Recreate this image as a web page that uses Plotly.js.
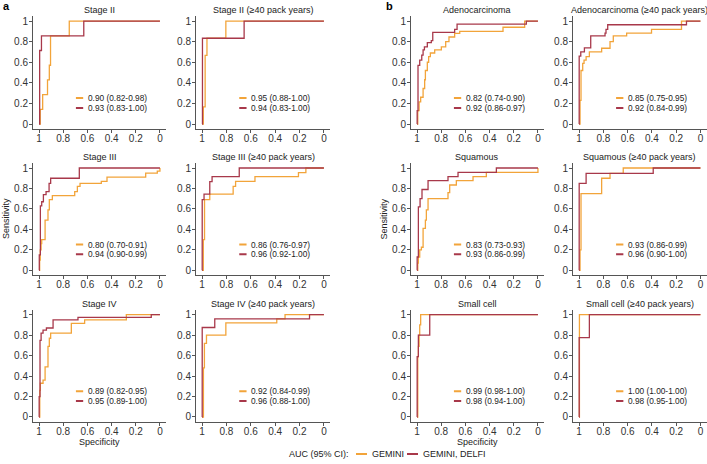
<!DOCTYPE html>
<html><head><meta charset="utf-8">
<script src="https://cdn.plot.ly/plotly-3.0.1.min.js"></script>
<style>html,body{margin:0;padding:0;background:#fff}#chart{width:707px;height:464px}</style>
</head><body><div id="chart"></div>
<script>
// ---------- DATA ----------
const specTickVals = [1, 0.8, 0.6, 0.4, 0.2, 0];
const specTickText = ['1', '0.8', '0.6', '0.4', '0.2', '0'];
const sensTickVals = [0, 0.2, 0.4, 0.6, 0.8, 1];
const sensTickText = ['0', '0.2', '0.4', '0.6', '0.8', '1'];

const panelTitles = ['Stage II', 'Stage II (≥40 pack years)', 'Stage III', 'Stage III (≥40 pack years)',
  'Stage IV', 'Stage IV (≥40 pack years)', 'Adenocarcinoma', 'Adenocarcinoma (≥40 pack years)',
  'Squamous', 'Squamous (≥40 pack years)', 'Small cell', 'Small cell (≥40 pack years)'];
const aucGemini = ['0.90 (0.82-0.98)', '0.95 (0.88-1.00)', '0.80 (0.70-0.91)', '0.86 (0.76-0.97)',
  '0.89 (0.82-0.95)', '0.92 (0.84-0.99)', '0.82 (0.74-0.90)', '0.85 (0.75-0.95)',
  '0.83 (0.73-0.93)', '0.93 (0.86-0.99)', '0.99 (0.98-1.00)', '1.00 (1.00-1.00)'];
const aucGeminiDelfi = ['0.93 (0.83-1.00)', '0.94 (0.83-1.00)', '0.94 (0.90-0.99)', '0.96 (0.92-1.00)',
  '0.95 (0.89-1.00)', '0.96 (0.88-1.00)', '0.92 (0.86-0.97)', '0.92 (0.84-0.99)',
  '0.93 (0.86-0.99)', '0.96 (0.90-1.00)', '0.98 (0.94-1.00)', '0.98 (0.95-1.00)'];
const seriesNames = ['GEMINI', 'GEMINI, DELFI'];
const legendTitle = 'AUC (95% CI):';
const panelLetters = ['a', 'b'];
const xAxisLabel = 'Specificity';
const yAxisLabel = 'Sensitivity';

// ROC curves (specificity, sensitivity) – corner points of step curves
const stageII_gem_spec = [1, 0.99, 0.97, 0.93, 0.915, 0.905, 0.75, 0];
const stageII_gem_sens = [0, 0.143, 0.286, 0.429, 0.571, 0.857, 1, 1];
const stageII_del_spec = [1, 0.995, 0.98, 0.63, 0];
const stageII_del_sens = [0, 0.714, 0.857, 1, 1];

const stageII40_gem_spec = [1, 0.99, 0.975, 0.96, 0.805, 0];
const stageII40_gem_sens = [0, 0.167, 0.667, 0.833, 1, 1];
const stageII40_del_spec = [1, 0.997, 0.655, 0];
const stageII40_del_sens = [0, 0.833, 1, 1];

const stageIII_gem_spec = [1, 0.995, 0.99, 0.983, 0.978, 0.95, 0.926, 0.915, 0.89, 0.705, 0.683, 0.661, 0.485, 0.438, 0.118, 0.022, 0];
const stageIII_gem_sens = [0, 0.1, 0.2, 0.26, 0.3, 0.49, 0.59, 0.69, 0.73, 0.77, 0.82, 0.85, 0.87, 0.91, 0.95, 0.97, 1];
const stageIII_del_spec = [1, 0.998, 0.989, 0.978, 0.964, 0.942, 0.917, 0.904, 0.667, 0];
const stageIII_del_sens = [0, 0.15, 0.63, 0.67, 0.74, 0.77, 0.85, 0.9, 1, 1];

const stageIII40_gem_spec = [1, 0.99, 0.98, 0.937, 0.745, 0.725, 0.566, 0.209, 0.148, 0];
const stageIII40_gem_sens = [0, 0.3, 0.69, 0.745, 0.82, 0.87, 0.915, 0.955, 1, 1];
const stageIII40_del_spec = [1, 0.999, 0.984, 0.937, 0.918, 0.695, 0];
const stageIII40_del_sens = [0, 0.69, 0.745, 0.866, 0.915, 1, 1];

const stageIV_gem_spec = [1, 0.994, 0.989, 0.967, 0.95, 0.926, 0.915, 0.904, 0.733, 0.623, 0.278, 0];
const stageIV_gem_sens = [0, 0.26, 0.33, 0.36, 0.49, 0.69, 0.77, 0.82, 0.915, 0.95, 1, 1];
const stageIV_del_spec = [1, 0.999, 0.992, 0.983, 0.967, 0.939, 0.884, 0.678, 0.072, 0];
const stageIV_del_sens = [0, 0.2, 0.75, 0.82, 0.85, 0.87, 0.95, 0.974, 1, 1];

const stageIV40_gem_spec = [1, 0.989, 0.981, 0.964, 0.805, 0.387, 0.319, 0];
const stageIV40_gem_sens = [0, 0.48, 0.72, 0.8, 0.92, 0.96, 1, 1];
const stageIV40_del_spec = [1, 0.999, 0.896, 0.118, 0];
const stageIV40_del_sens = [0, 0.875, 0.96, 1, 1];

const adeno_gem_spec = [1, 0.994, 0.983, 0.97, 0.95, 0.937, 0.931, 0.915, 0.904, 0.89, 0.854, 0.799, 0.763, 0.736, 0.689, 0.647, 0.289, 0.11, 0];
const adeno_gem_sens = [0, 0.13, 0.215, 0.26, 0.345, 0.43, 0.52, 0.6, 0.655, 0.69, 0.72, 0.75, 0.8, 0.845, 0.88, 0.9, 0.94, 1, 1];
const adeno_del_spec = [1, 0.999, 0.992, 0.978, 0.961, 0.95, 0.939, 0.915, 0.882, 0.87, 0.689, 0.669, 0.096, 0];
const adeno_del_sens = [0, 0.13, 0.57, 0.62, 0.67, 0.72, 0.75, 0.79, 0.81, 0.89, 0.92, 0.97, 1, 1];

const adeno40_gem_spec = [1, 0.992, 0.984, 0.97, 0.959, 0.942, 0.915, 0.814, 0.745, 0.718, 0.608, 0.403, 0.156, 0];
const adeno40_gem_sens = [0, 0.23, 0.52, 0.59, 0.62, 0.655, 0.7, 0.736, 0.8, 0.857, 0.883, 0.92, 1, 1];
const adeno40_del_spec = [1, 0.999, 0.986, 0.956, 0.904, 0.786, 0.778, 0.764, 0.115, 0];
const adeno40_del_sens = [0, 0.66, 0.7, 0.74, 0.857, 0.883, 0.92, 0.964, 1, 1];

const squam_gem_spec = [1, 0.994, 0.989, 0.978, 0.964, 0.95, 0.931, 0.923, 0.909, 0.744, 0.73, 0.675, 0.537, 0.427, 0];
const squam_gem_sens = [0, 0.07, 0.13, 0.2, 0.225, 0.41, 0.49, 0.59, 0.7, 0.76, 0.834, 0.876, 0.915, 0.958, 1];
const squam_del_spec = [1, 0.999, 0.989, 0.975, 0.959, 0.909, 0.744, 0.661, 0.344, 0];
const squam_del_sens = [0, 0.13, 0.62, 0.7, 0.79, 0.876, 0.915, 0.958, 1, 1];

const squam40_gem_spec = [1, 0.992, 0.984, 0.814, 0.745, 0.636, 0];
const squam40_gem_sens = [0, 0.2, 0.75, 0.9, 0.948, 1, 1];
const squam40_del_spec = [1, 0.999, 0.942, 0.389, 0];
const squam40_del_sens = [0, 0.85, 0.948, 1, 1];

const small_gem_spec = [1, 0.994, 0.989, 0.983, 0.978, 0.97, 0];
const small_gem_sens = [0, 0.59, 0.69, 0.8, 0.9, 1, 1];
const small_del_spec = [1, 0.999, 0.989, 0.895, 0];
const small_del_sens = [0, 0.59, 0.8, 1, 1];

const small40_gem_spec = [1, 0.997, 0];
const small40_gem_sens = [0, 1, 1];
const small40_del_spec = [1, 0.999, 0.915, 0];
const small40_del_sens = [0, 0.775, 1, 1];

// ---------- BUILD ----------
const curves = [
  [stageII_gem_spec, stageII_gem_sens, stageII_del_spec, stageII_del_sens],
  [stageII40_gem_spec, stageII40_gem_sens, stageII40_del_spec, stageII40_del_sens],
  [stageIII_gem_spec, stageIII_gem_sens, stageIII_del_spec, stageIII_del_sens],
  [stageIII40_gem_spec, stageIII40_gem_sens, stageIII40_del_spec, stageIII40_del_sens],
  [stageIV_gem_spec, stageIV_gem_sens, stageIV_del_spec, stageIV_del_sens],
  [stageIV40_gem_spec, stageIV40_gem_sens, stageIV40_del_spec, stageIV40_del_sens],
  [adeno_gem_spec, adeno_gem_sens, adeno_del_spec, adeno_del_sens],
  [adeno40_gem_spec, adeno40_gem_sens, adeno40_del_spec, adeno40_del_sens],
  [squam_gem_spec, squam_gem_sens, squam_del_spec, squam_del_sens],
  [squam40_gem_spec, squam40_gem_sens, squam40_del_spec, squam40_del_sens],
  [small_gem_spec, small_gem_sens, small_del_spec, small_del_sens],
  [small40_gem_spec, small40_gem_sens, small40_del_spec, small40_del_sens]
];

const W = 707, H = 464;
const colorGem = '#F2A43A';
const colorDel = '#A8384A';
const FONT = '"Liberation Sans", Arial, sans-serif';
const textColor = '#333333';
const axisColor = '#555555';

const colL = [33, 196, 411, 573];
const colR = [166, 330, 544, 706.5];
const rowT = [15.9, 162.9, 309.6];
const rowB = [129.2, 275.4, 422.1];
const px = v => v / W;
const py = v => 1 - v / H;

const traces = [];
const layout = {
  width: W, height: H,
  margin: {l: 0, r: 0, t: 0, b: 0},
  paper_bgcolor: '#fff', plot_bgcolor: '#fff',
  showlegend: false,
  font: {family: FONT, color: textColor, size: 10},
  annotations: [], shapes: []
};

for (let i = 0; i < 12; i++) {
  const j = i % 6;
  const r = Math.floor(j / 2);
  const c = (i < 6 ? 0 : 2) + (j % 2);
  const sfx = i === 0 ? '' : String(i + 1);
  const xa = 'x' + sfx, ya = 'y' + sfx;
  const cv = curves[i];
  traces.push({x: cv[0], y: cv[1], xaxis: xa, yaxis: ya, type: 'scatter', mode: 'lines',
    line: {color: colorGem, width: 1.3, shape: 'hv'}, name: seriesNames[0], hoverinfo: 'skip'});
  traces.push({x: cv[2], y: cv[3], xaxis: xa, yaxis: ya, type: 'scatter', mode: 'lines',
    line: {color: colorDel, width: 1.3, shape: 'hv'}, name: seriesNames[1], hoverinfo: 'skip'});

  layout['xaxis' + sfx] = {
    domain: [px(colL[c]), px(colR[c])], anchor: ya, range: [1.05, -0.05],
    tickmode: 'array', tickvals: specTickVals, ticktext: specTickText,
    showgrid: false, zeroline: false, showline: true, linecolor: axisColor, linewidth: 1,
    ticks: 'outside', ticklen: 3, tickcolor: axisColor, tickwidth: 1, ticklabelstandoff: -3,
    tickfont: {size: 10, color: textColor, family: FONT}, fixedrange: true
  };
  layout['yaxis' + sfx] = {
    domain: [py(rowB[r]), py(rowT[r])], anchor: xa, range: [-0.05, 1.05],
    tickmode: 'array', tickvals: sensTickVals, ticktext: sensTickText,
    showgrid: false, zeroline: false, showline: true, linecolor: axisColor, linewidth: 1,
    ticks: 'outside', ticklen: 3, tickcolor: axisColor, tickwidth: 1, ticklabelstandoff: -1,
    tickfont: {size: 10, color: textColor, family: FONT}, fixedrange: true
  };

  // subplot title
  layout.annotations.push({
    text: panelTitles[i], xref: 'paper', yref: 'paper',
    x: px((colL[c] + colR[c]) / 2), y: py(rowT[r] - 6), xanchor: 'center', yanchor: 'middle',
    showarrow: false, font: {size: 9, color: '#222', family: FONT}
  });
  // in-panel AUC legend
  const legY = [0.252, 0.157];
  const legTxt = [aucGemini[i], aucGeminiDelfi[i]];
  const legCol = [colorGem, colorDel];
  for (let k = 0; k < 2; k++) {
    layout.shapes.push({type: 'line', xref: xa, yref: ya, x0: 0.695, x1: 0.635, y0: legY[k], y1: legY[k],
      line: {color: legCol[k], width: 2}});
    layout.annotations.push({
      text: legTxt[k], xref: xa, yref: ya, x: 0.605, y: legY[k], xanchor: 'left', yanchor: 'middle',
      showarrow: false, font: {size: 8.3, color: '#222', family: FONT}, borderpad: 0
    });
  }
}

// axis titles
[[99.5, 442], [477.5, 442]].forEach(p => layout.annotations.push({
  text: xAxisLabel, xref: 'paper', yref: 'paper', x: px(p[0]), y: py(p[1]),
  xanchor: 'center', yanchor: 'middle', showarrow: false, font: {size: 9, color: '#222', family: FONT}
}));
[[6, 219], [383.5, 219]].forEach(p => layout.annotations.push({
  text: yAxisLabel, xref: 'paper', yref: 'paper', x: px(p[0]), y: py(p[1]), textangle: -90,
  xanchor: 'center', yanchor: 'middle', showarrow: false, font: {size: 9, color: '#222', family: FONT}
}));
// panel letters
[[6, 6], [390, 6]].forEach((p, k) => layout.annotations.push({
  text: '<b>' + panelLetters[k] + '</b>', xref: 'paper', yref: 'paper', x: px(p[0]), y: py(p[1]),
  xanchor: 'center', yanchor: 'middle', showarrow: false, font: {size: 11, color: '#000', family: FONT}
}));

// bottom legend
layout.annotations.push({text: legendTitle, xref: 'paper', yref: 'paper', x: px(350), y: py(454),
  xanchor: 'right', yanchor: 'middle', showarrow: false, font: {size: 9, color: '#222', family: FONT}, borderpad: 0});
[[356, 367, 371], [407, 418, 422]].forEach((p, k) => {
  layout.shapes.push({type: 'line', xref: 'paper', yref: 'paper', x0: px(p[0]), x1: px(p[1]), y0: py(454), y1: py(454),
    line: {color: k === 0 ? colorGem : colorDel, width: 2}});
  layout.annotations.push({text: seriesNames[k], xref: 'paper', yref: 'paper', x: px(p[2]), y: py(454),
    xanchor: 'left', yanchor: 'middle', showarrow: false, font: {size: 9, color: '#222', family: FONT}, borderpad: 0});
});

Plotly.newPlot('chart', traces, layout, {staticPlot: true, displayModeBar: false});
</script>
</body></html>
